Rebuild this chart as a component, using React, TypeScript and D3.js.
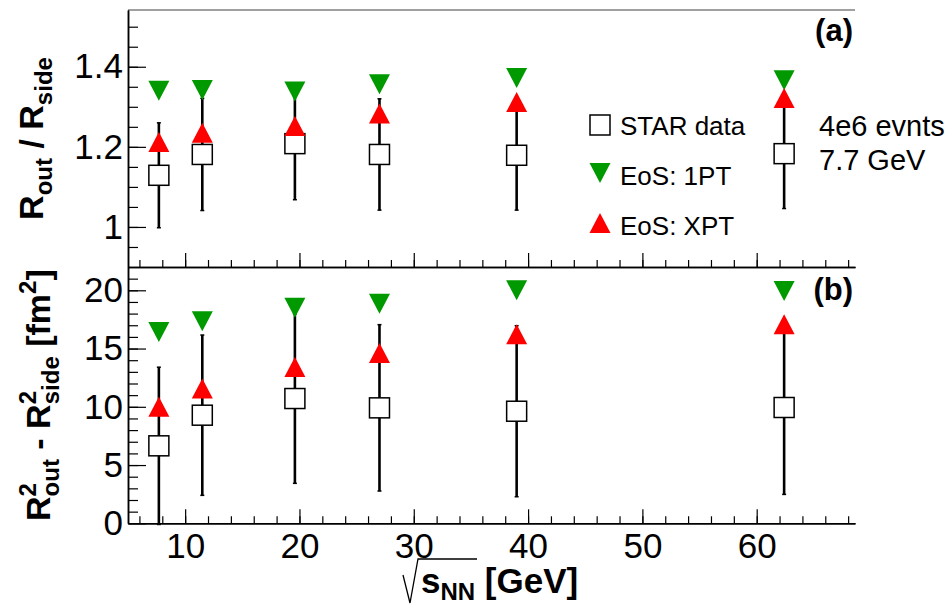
import React, { useEffect, useRef } from "react";
import * as d3 from "d3";

// beam energies (GeV)
const energies = [7.7, 11.5, 19.6, 27, 39, 62.4];

// panel (a): Rout / Rside
const ratioStar = [1.129, 1.181, 1.208, 1.181, 1.179, 1.183];
const ratioStarErr = [0.131, 0.14, 0.14, 0.139, 0.137, 0.137];
const ratio1PT = [1.34, 1.342, 1.338, 1.356, 1.372, 1.366];
const ratioXPT = [1.212, 1.235, 1.252, 1.283, 1.312, 1.322];

// panel (b): Rout^2 - Rside^2
const diffStar = [6.65, 9.28, 10.71, 9.91, 9.62, 9.94];
const diffStarErr = [6.75, 6.88, 7.28, 7.14, 7.34, 7.46];
const diff1PT = [16.42, 17.34, 18.5, 18.85, 20.0, 19.93];
const diffXPT = [10.0, 11.57, 13.42, 14.62, 16.22, 17.08];

const legendLabels = ["STAR data", "EoS: 1PT", "EoS: XPT"];

const FONT = "Liberation Sans, Arial, Helvetica, sans-serif";
const GREEN = "#009900";
const RED = "#ff0000";

const App = () => {
  const svgRef = useRef<SVGSVGElement>(null);

  useEffect(() => {
    const svg = d3.select(svgRef.current);
    svg.selectAll("*").remove();

    const left = 128;
    const right = 855;
    const top = 10;
    const mid = 267;
    const bottom = 523.3;

    const x = d3.scaleLinear().domain([5, 68.6]).range([left, right]);
    const yA = d3.scaleLinear().domain([0.9, 1.5417]).range([mid, top]);
    const yB = d3.scaleLinear().domain([0, 22]).range([bottom, mid]);

    // grey frame top
    svg.append("line")
      .attr("x1", left).attr("x2", right)
      .attr("y1", top).attr("y2", top)
      .attr("stroke", "#a0a0a0").attr("stroke-width", 2);

    const styleAxis = (g) => {
      g.attr("font-family", FONT).attr("font-size", 35);
      g.selectAll("line").attr("stroke", "#000").attr("stroke-width", 1.2);
      g.selectAll("path").attr("stroke", "#000").attr("stroke-width", 1.5);
      g.selectAll("text").attr("fill", "#000");
    };

    const xMinor = d3.range(6, 69, 2);
    const xMajor = [10, 20, 30, 40, 50, 60];

    // x axes (panel a: ticks only, panel b: labels)
    [mid, bottom].forEach((yPos, i) => {
      const gMin = svg.append("g").attr("transform", `translate(0,${yPos})`)
        .call(d3.axisBottom(x).tickValues(xMinor).tickSizeInner(-7).tickSizeOuter(0).tickFormat(() => ""));
      styleAxis(gMin);
      const gMaj = svg.append("g").attr("transform", `translate(0,${yPos})`)
        .call(d3.axisBottom(x).tickValues(xMajor).tickSizeInner(-14).tickSizeOuter(0).tickPadding(10)
          .tickFormat(i === 1 ? d3.format("d") : () => ""));
      styleAxis(gMaj);
    });

    // y axis panel a
    const gAmin = svg.append("g").attr("transform", `translate(${left},0)`)
      .call(d3.axisLeft(yA).tickValues(d3.range(0.95, 1.53, 0.05)).tickSizeInner(-10).tickSizeOuter(0).tickFormat(() => ""));
    styleAxis(gAmin);
    const gA = svg.append("g").attr("transform", `translate(${left},0)`)
      .call(d3.axisLeft(yA).tickValues([1, 1.2, 1.4]).tickSizeInner(-18).tickSizeOuter(0).tickPadding(5)
        .tickFormat((d) => (d === 1 ? "1" : d3.format(".1f")(d))));
    styleAxis(gA);

    // y axis panel b
    const gBmin = svg.append("g").attr("transform", `translate(${left},0)`)
      .call(d3.axisLeft(yB).tickValues(d3.range(1, 22, 1)).tickSizeInner(-10).tickSizeOuter(0).tickFormat(() => ""));
    styleAxis(gBmin);
    const gB = svg.append("g").attr("transform", `translate(${left},0)`)
      .call(d3.axisLeft(yB).tickValues([0, 5, 10, 15, 20]).tickSizeInner(-18).tickSizeOuter(0).tickPadding(5)
        .tickFormat(d3.format("d")));
    styleAxis(gB);

    const down = (cx, cy) => `M${cx - 10.5},${cy - 10}L${cx + 10.5},${cy - 10}L${cx},${cy + 10}Z`;
    const up = (cx, cy) => `M${cx - 10.5},${cy + 10}L${cx + 10.5},${cy + 10}L${cx},${cy - 10}Z`;

    const drawPanel = (y, star, err, g1, gx) => {
      const g = svg.append("g");
      const pts = energies.map((e, i) => ({ e, v: star[i], err: err[i], p1: g1[i], px: gx[i] }));
      g.selectAll("line.err").data(pts).join("line")
        .attr("x1", (d) => x(d.e)).attr("x2", (d) => x(d.e))
        .attr("y1", (d) => y(d.v + d.err)).attr("y2", (d) => y(d.v - d.err))
        .attr("stroke", "#000").attr("stroke-width", 2.6);
      [1, -1].forEach((s) => {
        g.selectAll(`line.cap${s}`).data(pts).join("line")
          .attr("x1", (d) => x(d.e) - 2).attr("x2", (d) => x(d.e) + 2)
          .attr("y1", (d) => y(d.v + s * d.err)).attr("y2", (d) => y(d.v + s * d.err))
          .attr("stroke", "#000").attr("stroke-width", 1.5);
      });
      g.selectAll("rect").data(pts).join("rect")
        .attr("x", (d) => x(d.e) - 10).attr("y", (d) => y(d.v) - 10)
        .attr("width", 20).attr("height", 20)
        .attr("fill", "#fff").attr("stroke", "#000").attr("stroke-width", 1.5);
      g.selectAll("path.one").data(pts).join("path")
        .attr("d", (d) => down(x(d.e), y(d.p1))).attr("fill", GREEN);
      g.selectAll("path.xpt").data(pts).join("path")
        .attr("d", (d) => up(x(d.e), y(d.px))).attr("fill", RED);
    };
    drawPanel(yA, ratioStar, ratioStarErr, ratio1PT, ratioXPT);
    drawPanel(yB, diffStar, diffStarErr, diff1PT, diffXPT);

    // legend
    const lg = svg.append("g").attr("font-family", FONT).attr("font-size", 26);
    lg.append("rect").attr("x", 590).attr("y", 115).attr("width", 20).attr("height", 20)
      .attr("fill", "#fff").attr("stroke", "#000").attr("stroke-width", 1.5);
    lg.append("path").attr("d", down(600, 173)).attr("fill", GREEN);
    lg.append("path").attr("d", up(600, 223)).attr("fill", RED);
    legendLabels.forEach((t, i) => {
      lg.append("text").attr("x", 620).attr("y", 135 + i * 50).text(t);
    });

    const note = svg.append("g").attr("font-family", FONT).attr("font-size", 29);
    note.append("text").attr("x", 819).attr("y", 136).text("4e6 evnts");
    note.append("text").attr("x", 819).attr("y", 170).text("7.7 GeV");

    svg.append("text").attr("x", 853).attr("y", 41).attr("text-anchor", "end")
      .attr("font-family", FONT).attr("font-weight", "bold").attr("font-size", 31).text("(a)");
    svg.append("text").attr("x", 853).attr("y", 300).attr("text-anchor", "end")
      .attr("font-family", FONT).attr("font-weight", "bold").attr("font-size", 31).text("(b)");

    // y titles
    const tA = svg.append("text")
      .attr("transform", `translate(43,${(top + mid) / 2}) rotate(-90)`)
      .attr("text-anchor", "middle").attr("font-family", FONT).attr("font-weight", "bold").attr("font-size", 34);
    tA.append("tspan").text("R");
    tA.append("tspan").attr("font-size", 24).attr("dy", 9).text("out");
    tA.append("tspan").attr("dy", -9).text(" / R");
    tA.append("tspan").attr("font-size", 24).attr("dy", 9).text("side");

    const tB = svg.append("text")
      .attr("transform", `translate(50,${(mid + bottom) / 2}) rotate(-90)`)
      .attr("text-anchor", "middle").attr("font-family", FONT).attr("font-weight", "bold").attr("font-size", 34);
    tB.append("tspan").text("R");
    tB.append("tspan").attr("font-size", 24).attr("dy", -14).text("2");
    tB.append("tspan").attr("font-size", 24).attr("dx", -13.3).attr("dy", 23).text("out");
    tB.append("tspan").attr("dy", -9).text(" - R");
    tB.append("tspan").attr("font-size", 24).attr("dy", -14).text("2");
    tB.append("tspan").attr("font-size", 24).attr("dx", -13.3).attr("dy", 23).text("side");
    tB.append("tspan").attr("dy", -9).text(" [fm");
    tB.append("tspan").attr("font-size", 24).attr("dy", -14).text("2");
    tB.append("tspan").attr("dy", 14).text("]");

    // x title
    const tx = svg.append("text").attr("x", 421).attr("y", 593)
      .attr("font-family", FONT).attr("font-weight", "bold").attr("font-size", 35);
    tx.append("tspan").text("s");
    tx.append("tspan").attr("font-size", 24).attr("dy", 7).text("NN");
    tx.append("tspan").attr("dy", -7).text(" [GeV]");
    svg.append("path")
      .attr("d", "M403,575L410,603L418,559L477,559")
      .attr("fill", "none").attr("stroke", "#000").attr("stroke-width", 1.3);
  }, []);

  return (
    <svg ref={svgRef} width={950} height={607}
      style={{ position: "absolute", left: 0, top: 0, background: "#fff" }} />
  );
};

export default App;
